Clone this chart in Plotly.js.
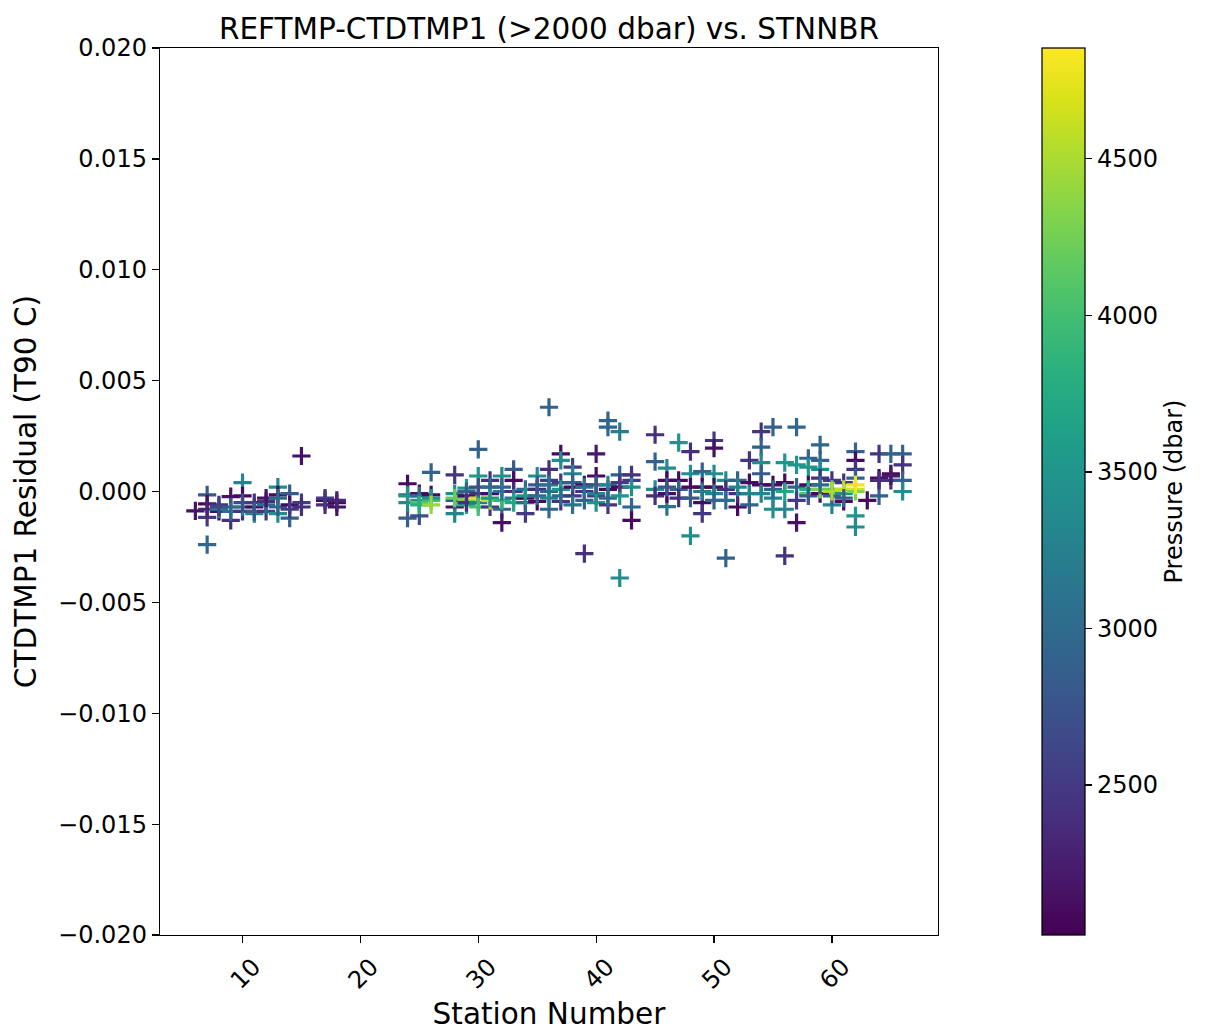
<!DOCTYPE html>
<html>
<head>
<meta charset="utf-8">
<script src="https://cdn.plot.ly/plotly-3.0.1.min.js"></script>
<style>html,body{margin:0;padding:0;background:#fff;}#chart{width:1206px;height:1032px;}</style>
</head>
<body>
<div id="chart"></div>
<script>
// Station number of each bottle (>2000 dbar)
var stations = [
  6,
  7,7,7,7,7,
  8,8,8,8,
  9,9,9,9,
  10,10,10,10,10,
  11,11,11,11,
  12,12,12,12,
  13,13,13,13,13,
  14,14,14,14,
  15,15,15,
  17,17,17,
  18,18,18,
  24,24,24,24,24,
  25,25,25,25,25,25,
  26,26,26,26,26,
  28,28,28,28,28,28,
  29,29,29,29,29,29,
  30,30,30,30,30,30,30,
  31,31,31,31,31,31,
  32,32,32,32,32,32,
  33,33,33,33,33,
  34,34,34,34,34,
  35,35,35,35,35,
  36,36,36,36,36,36,36,
  37,37,37,37,37,37,
  38,38,38,38,38,38,
  39,39,39,39,39,
  40,40,40,40,40,40,
  41,41,41,41,41,41,
  42,42,42,42,42,42,
  43,43,43,43,43,
  45,45,45,45,
  46,46,46,46,46,
  47,47,47,47,
  48,48,48,48,48,
  49,49,49,49,49,
  50,50,50,50,50,50,
  51,51,51,51,
  52,52,52,52,
  53,53,53,53,
  54,54,54,54,54,54,
  55,55,55,55,55,
  56,56,56,56,56,
  57,57,57,57,57,
  58,58,58,58,58,58,
  59,59,59,59,59,59,59,
  60,60,60,60,60,
  61,61,61,61,61,
  62,62,62,62,62,62,62,62,62,
  63,
  64,64,64,64,
  65,65,65,65,
  66,66,66,66
];
// REFTMP - CTDTMP1 residual (T90 C)
var residuals = [
  -0.00087,
  -0.00015,-0.00056,-0.00117,-0.0024,-0.0008,
  -0.0006,-0.0009,-0.0008,-0.0007,
  -0.00023,-0.0007,-0.0013,-0.0009,
  0.0004,-0.0002,-0.0009,-0.0007,-0.0005,
  -0.0007,-0.001,-0.0005,-0.0009,
  -0.00045,-0.0009,-0.0006,-0.0003,
  0.0002,-0.00015,-0.001,-0.0007,-0.0003,
  -0.0001,-0.0006,-0.0012,-0.0008,
  0.0016,-0.0005,-0.0007,
  -0.0004,-0.0006,-0.0003,
  -0.0005,-0.0007,-0.0004,
  0.00035,-0.00015,-0.0012,-0.0005,-0.0002,
  -0.0001,-0.0004,-0.0011,-0.0005,-0.0002,-0.0006,
  0.00086,-0.00015,-0.0004,-0.0003,-0.0006,
  0.00075,-0.0001,-0.0007,-0.001,-0.0004,-0.0003,
  0.00015,-0.0002,-0.0004,-0.0006,0.0,-0.0005,
  0.0019,0.0007,-0.0003,-0.0001,-0.0005,0.0002,-0.0007,
  0.0005,-0.0001,-0.0007,0.0002,-0.0004,-0.0003,
  0.0007,0.0002,-0.0008,-0.0014,-0.0004,0.0,
  0.001,0.0005,0.0,-0.0003,-0.0005,
  -0.0003,-0.001,-0.0005,0.0001,-0.0002,
  0.0007,0.0001,-0.00045,-0.0002,0.0003,
  0.0038,0.001,0.0005,0.0,-0.0008,-0.0003,0.0003,
  0.0017,0.0014,0.0004,-0.00045,0.0001,-0.0002,
  0.0011,0.0008,0.0002,-0.0002,-0.0006,0.0004,
  0.0003,0.0,-0.0004,-0.0028,0.0002,
  0.0017,0.0007,-0.0002,-0.0001,-0.0005,0.0003,
  0.0032,0.0029,0.0001,-0.0006,0.0003,-0.0003,
  0.0027,0.00075,0.0002,-0.0039,-0.0002,0.0004,
  0.00075,0.0005,0.0002,-0.0007,-0.0013,
  0.00256,0.00135,0.0001,-0.0002,
  0.00105,0.0005,-0.00068,-0.0001,0.0002,
  0.0022,0.0005,0.0001,-0.0003,
  0.0018,0.0008,0.0002,-0.002,-0.0003,
  0.0009,0.0002,-0.0005,-0.001,0.0,
  0.0023,0.00196,0.0008,0.0002,-0.0001,-0.0004,
  0.0005,0.0001,-0.003,-0.0004,
  0.0005,-0.0007,-0.0001,0.0002,
  0.0014,0.0004,-0.0001,-0.0006,
  0.0027,0.002,0.0013,0.0003,-0.0001,0.0008,
  0.0029,0.0003,-0.0003,-0.0008,0.0001,
  0.0013,0.0004,-0.0008,-0.0029,0.0,
  0.0029,0.0012,0.0002,-0.0014,-0.0004,
  0.0015,0.0011,0.0003,-0.0001,0.0001,-0.0002,
  0.0021,0.0014,0.001,0.0006,-0.0001,0.0001,0.0003,
  0.0005,0.0001,-0.0006,-0.0002,0.0,
  0.0004,-0.00045,-0.0001,0.0001,-0.0003,
  0.0018,0.0014,0.001,0.0006,0.0001,-0.0011,-0.0016,0.0,0.0003,
  -0.0004,
  0.0017,0.0006,-0.0002,0.0005,
  0.0017,0.0008,0.0005,0.0007,
  0.0017,0.0012,0.0005,0.0
];
// CTD pressure (dbar)
var pressures = [
  2150,
  2800,2100,2500,2950,2300,
  2450,2100,3200,2600,
  2150,2800,2400,3000,
  3300,2100,2450,3100,2700,
  2100,3300,2500,2800,
  2400,2500,3000,2150,
  3400,2100,3400,2900,3000,
  2800,2100,2900,2500,
  2150,2500,2400,
  2100,2400,2500,
  2100,2150,2300,
  2100,2900,2850,3300,3500,
  2150,3500,2700,4100,3000,3800,
  2900,2100,4000,3500,4400,
  2450,3400,2150,3300,2800,4200,
  3500,2100,4300,3700,2900,2400,
  2900,3500,4700,2400,3200,2700,4000,
  2400,2100,2500,3000,4600,3500,
  3400,2900,2900,2150,3900,3100,
  2800,2100,2400,3200,3700,
  2100,2500,2900,3000,3500,
  3400,2400,2100,3000,2800,
  2900,2400,2500,2900,2950,3300,3100,
  2100,3400,2500,2450,3500,3000,
  2500,3300,2100,2500,3100,2900,
  2150,2400,2900,2400,3100,
  2200,2100,2500,3300,3500,2800,
  2900,2950,2100,2450,3300,3000,
  3200,2900,2100,3400,3500,2500,
  2450,2500,3400,2950,2100,
  2400,2900,3400,2400,
  3400,2100,3100,2100,2800,
  3500,2100,2900,2400,
  2400,3400,2100,3400,2800,
  2900,2100,2100,2450,3200,
  2450,2150,3400,2100,3300,2900,
  3400,2400,2900,3000,
  2900,2100,2400,3300,
  2450,2100,3300,2900,
  2450,2900,3400,2100,3300,2800,
  2900,2100,3300,3400,2900,
  3500,2100,3300,2450,3700,
  2950,3500,2900,2150,2500,
  2900,3500,2100,4100,3800,2800,
  2950,2900,3400,2400,2100,4300,3000,
  2450,4200,3300,2900,4500,
  2450,2100,3400,4600,2900,
  2900,2100,2450,2900,4700,3500,3400,4300,4800,
  2100,
  2450,2100,2900,2400,
  2900,2100,2450,2200,
  2900,2450,2900,3400
];
var xTicks = [10, 20, 30, 40, 50, 60];
var yTicks = [-0.02, -0.015, -0.01, -0.005, 0, 0.005, 0.01, 0.015, 0.02];
var cbTicks = [2500, 3000, 3500, 4000, 4500];

var FONT = 'DejaVu Sans, Liberation Sans, sans-serif';
var trace = {
  type: 'scatter',
  mode: 'markers',
  x: stations,
  y: residuals,
  hoverinfo: 'skip',
  marker: {
    symbol: 'cross-thin',
    size: 13,
    color: pressures,
    colorscale: 'Viridis',
    cmin: 2021, cmax: 4854,
    showscale: true,
    line: {
      width: 3.2,
      color: pressures,
      colorscale: 'Viridis',
      cmin: 2021, cmax: 4854
    },
    colorbar: {
      thickness: 43, thicknessmode: 'pixels',
      len: 1, lenmode: 'fraction',
      x: 1.1333, xanchor: 'left', xpad: 0,
      y: 0.5, yanchor: 'middle', ypad: 0,
      outlinewidth: 1.25, outlinecolor: '#000',
      ticks: 'outside', ticklen: 7, tickwidth: 1.25, tickcolor: '#000',
      tickvals: cbTicks,
      tickfont: {family: FONT, size: 24, color: '#000'},
      title: {text: 'Pressure (dbar)', side: 'right', font: {family: FONT, size: 24, color: '#000'}}
    }
  }
};

var layout = {
  width: 1206, height: 1032,
  margin: {l: 160, r: 268, t: 48, b: 97},
  paper_bgcolor: '#fff', plot_bgcolor: '#fff',
  showlegend: false,
  font: {family: FONT, color: '#000'},
  title: {
    text: 'REFTMP-CTDTMP1 (>2000 dbar) vs. STNNBR',
    font: {family: FONT, size: 29.5, color: '#000'},
    x: 0.5, xref: 'paper', xanchor: 'center',
    y: 1, yref: 'paper', yanchor: 'bottom', pad: {b: 9}
  },
  xaxis: {
    range: [3, 69],
    tickvals: xTicks,
    tickangle: -45,
    ticklabelshift: 11,
    ticks: 'outside', ticklen: 7, tickwidth: 1.25, tickcolor: '#000',
    tickfont: {family: FONT, size: 24, color: '#000'},
    showline: true, mirror: true, linecolor: '#000', linewidth: 1.25,
    showgrid: false, zeroline: false,
    title: {text: 'Station Number', font: {family: FONT, size: 29.5, color: '#000'}, standoff: 10}
  },
  yaxis: {
    range: [-0.02, 0.02],
    tickvals: yTicks,
    tickformat: '.3f',
    ticks: 'outside', ticklen: 7, tickwidth: 1.25, tickcolor: '#000',
    tickfont: {family: FONT, size: 24, color: '#000'},
    showline: true, mirror: true, linecolor: '#000', linewidth: 1.25,
    showgrid: false, zeroline: false,
    title: {text: 'CTDTMP1 Residual (T90 C)', font: {family: FONT, size: 29.5, color: '#000'}, standoff: 12}
  }
};

Plotly.newPlot('chart', [trace], layout, {displayModeBar: false, staticPlot: true});
</script>
</body>
</html>
